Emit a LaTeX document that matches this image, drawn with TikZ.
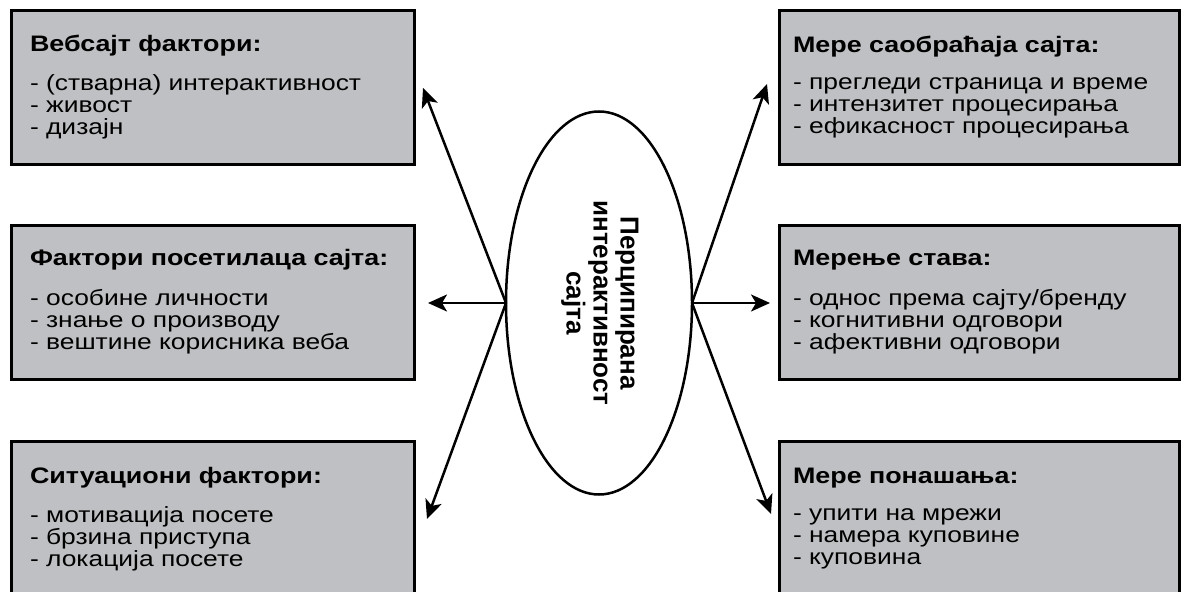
\documentclass[tikz,border=0pt]{standalone}
\usepackage{fontspec, graphicx}
\setmainfont{Liberation Sans}
\newfontfamily\widefont{Liberation Sans}[FakeStretch=1.2]
\usetikzlibrary{positioning, shapes.geometric, arrows.meta}

\begin{document}
\begin{tikzpicture}[x=0.5pt, y=-0.5pt]
    \newlength\hpad
    \newlength\vpad
    \newlength\epad
    \setlength\hpad{182.5pt}
    \setlength\vpad{30.5pt}
    \setlength\epad{46pt}
    \definecolor{box-gray}{RGB}{191,192,195}
    \newcommand*\factortable[2]{%
        {\fontsize{11.2}{11}\selectfont\bfseries\strut #1}\\[7.5pt]
        #2\strut%
    }
    \tikzset{
        out-arrow/.style={line width=1.25pt,
            -{Stealth[length=9.5pt, width=8.5pt, inset=2.5pt]}},
    }

    \useasboundingbox (0,0) rectangle (1181,592);

    \begin{scope}[every node/.append style={draw, line width=1.5pt,
            outer sep=0pt, fill=box-gray, align=left, minimum height=77pt,
            font=\widefont\fontsize{11}{11}\selectfont}]
        % LEFT COLUMN
        \node [anchor=north west, text width=182.5pt, inner xsep=9.5pt]
            at (11,11) (site) {
            \factortable{Вебсајт фактори:}{- (стварна) интерактивност\\
                - живост\\ - дизајн}};
        \node [below = \vpad of site, text width=182.5pt, inner xsep=9.5pt]
            (visitor) {
            \factortable{Фактори посетилаца сајта:}{- особине личности\\
                - знање о производу\\ - вештине корисника веба}};
        \node [below = \vpad of visitor, text width=182.5pt, inner xsep=9.5pt,
            minimum height=79pt] (situation) {
            \factortable{Ситуациони фактори:}{- мотивација посете\\
                - брзина приступа\\ - локација посете}};

        % RIGHT COLUMN
        \node [right = \hpad of site, text width=186pt, inner xsep=7pt]
            (traffic) {
            \factortable{Мере саобраћаја сајта:}{- прегледи страница и време\\
                - интензитет процесирања\\ - ефикасност процесирања}};
        \node [right = \hpad of visitor, text width=186pt, inner xsep=7pt]
            (attitude) {
            \factortable{Мерење става:}{- однос према сајту/бренду\\
                - когнитивни одговори\\ - афективни одговори}};
        \node [right = \hpad of situation, text width=186pt, inner xsep=7pt,
            minimum height=79pt] (behaviour) {
            \factortable{Мере понашања:}{- упити на мрежи\\
                - намера куповине\\ - куповина}};
    \end{scope}

    % CENTRE ELLIPSE
    \node [draw, ellipse, line width=1.25pt, inner sep=0pt, outer sep=0pt,
        minimum width=93pt, minimum height=191.5pt,
        right = \epad of visitor,
        font=\fontsize{13}{13.5}\selectfont\bfseries] (perc) {%
        \rotatebox{-90}{\begin{tabular}{@{}c@{}}
            Перципирана\\ интерактивност\\ сајта
        \end{tabular}}};

    % Arrows to the left column
    \draw[out-arrow] (perc.west) -- ([xshift=4.5pt]site.east);
    \draw[out-arrow] (perc.west) -- ([xshift=7pt]visitor.east);
    \draw[out-arrow] (perc.west) -- ([xshift=6.5pt, yshift=0.5pt]situation.east);

    % Arrows to the right column
    \draw[out-arrow] (perc.east) -- ([xshift=-6pt, yshift=2pt]traffic.west);
    \draw[out-arrow] (perc.east) -- ([xshift=-4.5pt]attitude.west);
    \draw[out-arrow] (perc.east) -- ([xshift=-4pt, yshift=3pt]behaviour.west);
\end{tikzpicture}
\end{document}
